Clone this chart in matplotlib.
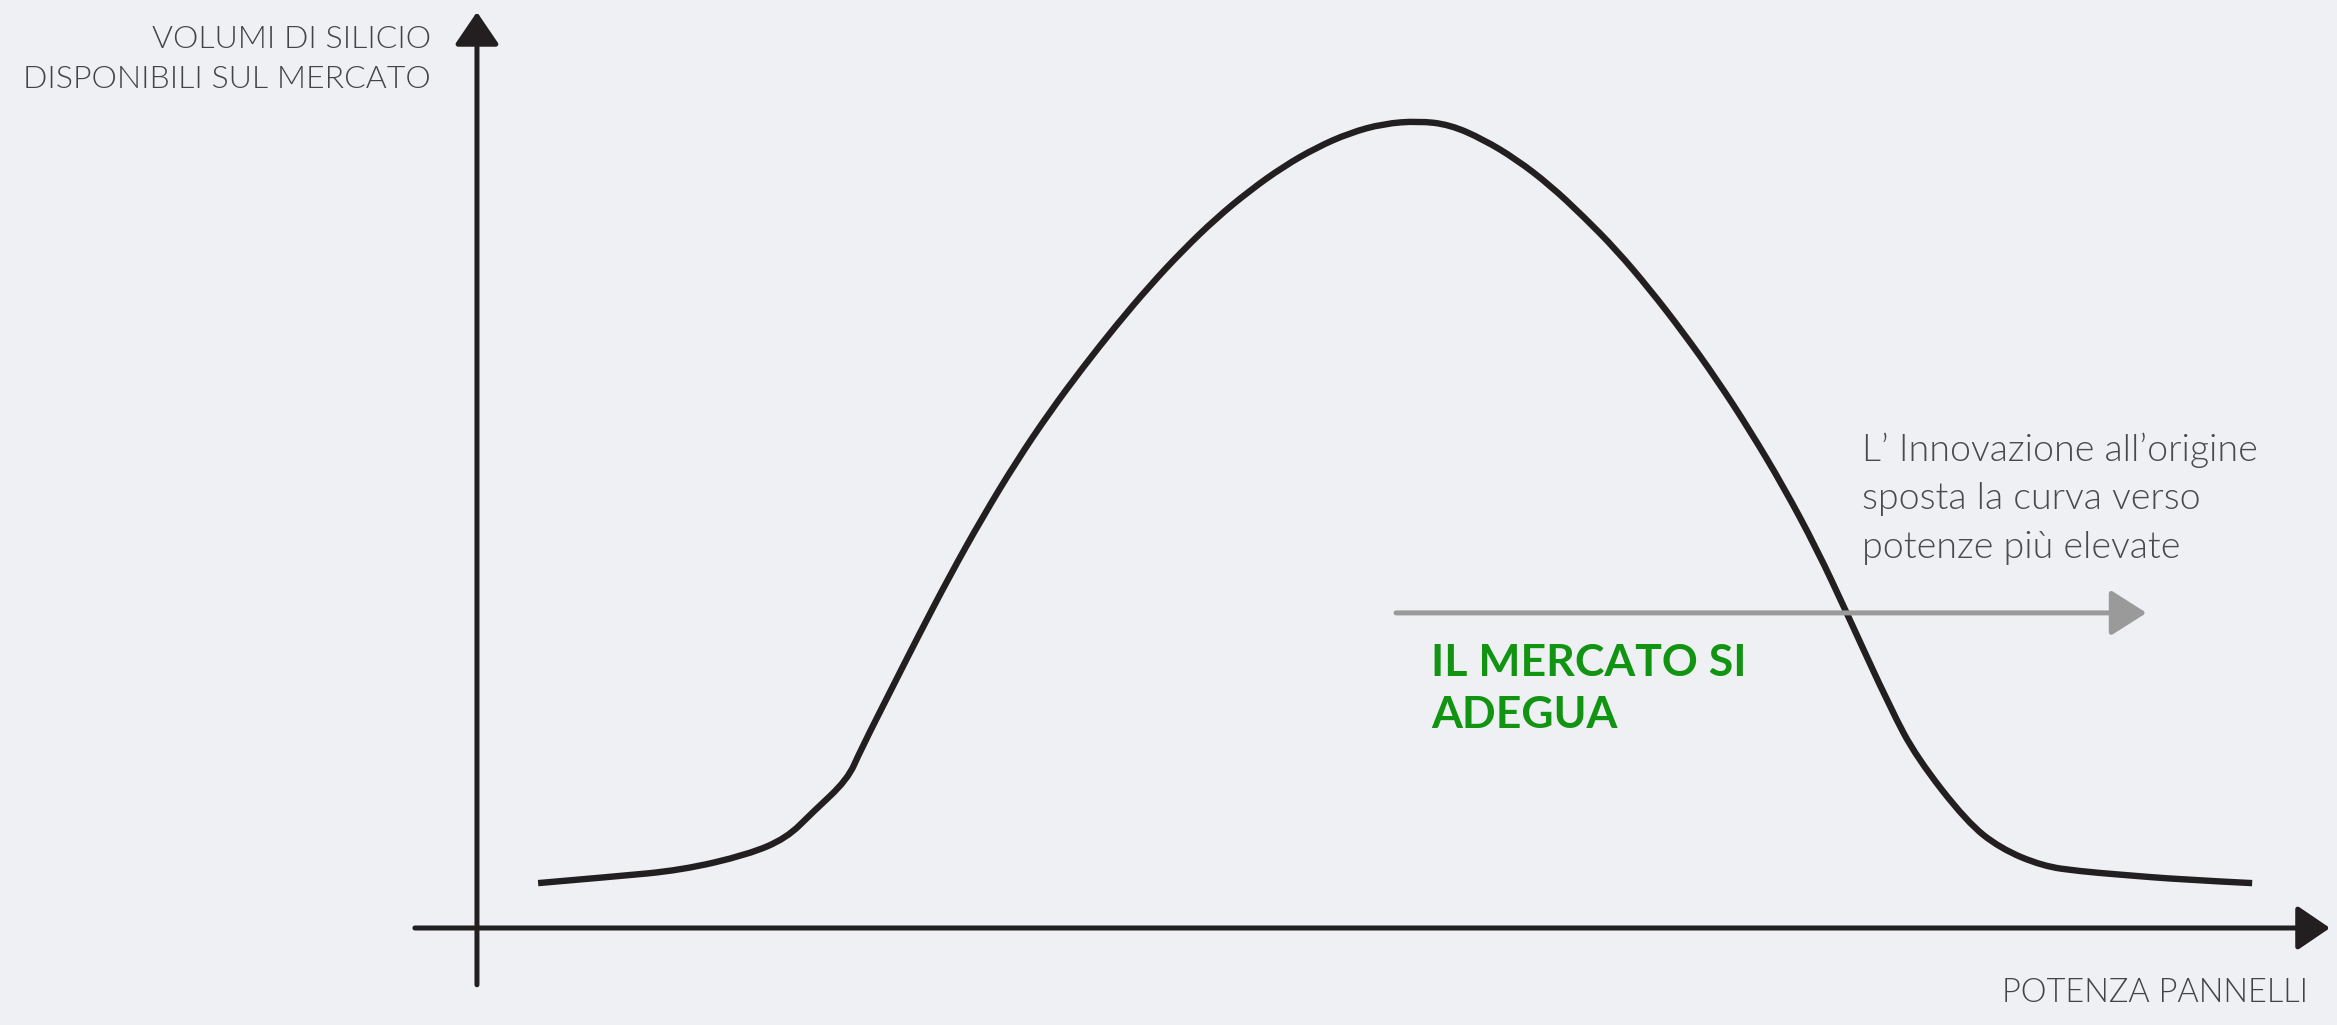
import matplotlib.pyplot as plt
from matplotlib.path import Path
from matplotlib.patches import PathPatch

W, H = 2337, 1025

# supply curve: potenza pannelli (x) vs volumi di silicio (y), arbitrary 0-100 units
potenza = [3.3, 7.3, 11.0, 14.6, 16.7, 18.1, 20.0, 20.7, 22.6, 23.8, 25.5, 27.3,
           29.1, 30.9, 32.7, 34.5, 36.3, 38.1, 39.9, 41.7, 43.5, 45.3, 47.1,
           48.9, 50.8, 52.5, 54.3, 56.1, 57.9, 59.7, 61.5, 63.3, 65.1, 66.9,
           68.7, 70.5, 72.3, 73.9, 76.3, 77.7, 80.4, 82.2, 84.5, 86.5, 88.5,
           92.1, 95.8]
volumi = [4.9, 5.6, 6.3, 8.0, 9.8, 12.6, 16.2, 19.4, 27.0, 31.8, 38.4, 44.9,
          50.9, 56.3, 61.2, 65.8, 70.1, 74.0, 77.5, 80.5, 83.1, 85.2, 86.8,
          87.8, 88.1, 87.7, 86.1, 83.9, 81.1, 77.7, 74.0, 69.7, 65.0, 59.9,
          54.3, 48.2, 41.4, 34.5, 23.9, 18.6, 11.6, 8.7, 6.75, 6.2, 5.85,
          5.27, 4.9]

# shift arrow (innovation moves the curve to higher power)
shift_start, shift_end, shift_level = 49.6, 90.1, 34.4

y_label = ["VOLUMI DI SILICIO", "DISPONIBILI SUL MERCATO"]
x_label = "POTENZA PANNELLI"
note = ["L\u2019 Innovazione all\u2019origine", "sposta la curva verso",
        "potenze pi\u00f9 elevate"]
callout = ["IL MERCATO SI", "ADEGUA"]

bg = "#eef0f3"
ink = "#231f20"

fig = plt.figure(figsize=(W / 100, H / 100), dpi=100, facecolor=bg)
ax = fig.add_axes([0, 0, 1, 1])
ax.set_facecolor(bg)
ax.set_xlim(-25.74, 100.38)
ax.set_ylim(-10.59, 101.31)
ax.axis("off")

head = "-|>,head_length=0.5,head_width=0.34"
# axes with arrow heads
ax.annotate("", xy=(100, 0), xytext=(-3.35, 0),
            arrowprops=dict(arrowstyle=head, mutation_scale=40, color=ink,
                            lw=3.6, shrinkA=0, shrinkB=0))
ax.annotate("", xy=(0, 100), xytext=(0, -6.2),
            arrowprops=dict(arrowstyle=head, mutation_scale=40, color=ink,
                            lw=3.6, shrinkA=0, shrinkB=0))

# curve drawn as a smooth quadratic path through the read points
pts = list(zip(potenza, volumi))
verts = [pts[0]]
codes = [Path.MOVETO]
for i in range(1, len(pts) - 2):
    mid = ((pts[i][0] + pts[i + 1][0]) / 2, (pts[i][1] + pts[i + 1][1]) / 2)
    verts += [pts[i], mid]
    codes += [Path.CURVE3, Path.CURVE3]
verts += [pts[-2], pts[-1]]
codes += [Path.CURVE3, Path.CURVE3]
ax.add_patch(PathPatch(Path(verts, codes), facecolor="none", edgecolor=ink,
                       lw=4.6, capstyle="butt", joinstyle="round"))

# shift arrow
ax.annotate("", xy=(shift_end, shift_level), xytext=(shift_start, shift_level),
            arrowprops=dict(arrowstyle="-|>,head_length=0.55,head_width=0.35",
                            mutation_scale=40, color="#9a9a9a", lw=3.6,
                            shrinkA=0, shrinkB=0))

font = "Lato"
for line, y in zip(y_label, [40, 80]):
    fig.text(431 / W, 1 - y / H, line, ha="right", va="center", fontsize=23,
             family=font, fontweight=300, color="#444444")
fig.text(2308 / W, 1 - 993 / H, x_label, ha="right", va="center", fontsize=23.5,
         family=font, fontweight=300, color="#444444")
for line, y in zip(note, [450, 499, 548]):
    fig.text(1862 / W, 1 - y / H, line, ha="left", va="center", fontsize=27,
             family=font, fontweight=300, color="#4a4a4a")
for line, y in zip(callout, [663, 715]):
    fig.text(1431 / W, 1 - y / H, line, ha="left", va="center", fontsize=32,
             family=font, fontweight="bold", color="#119411")

fig.savefig("out.png", dpi=100, facecolor=bg)
